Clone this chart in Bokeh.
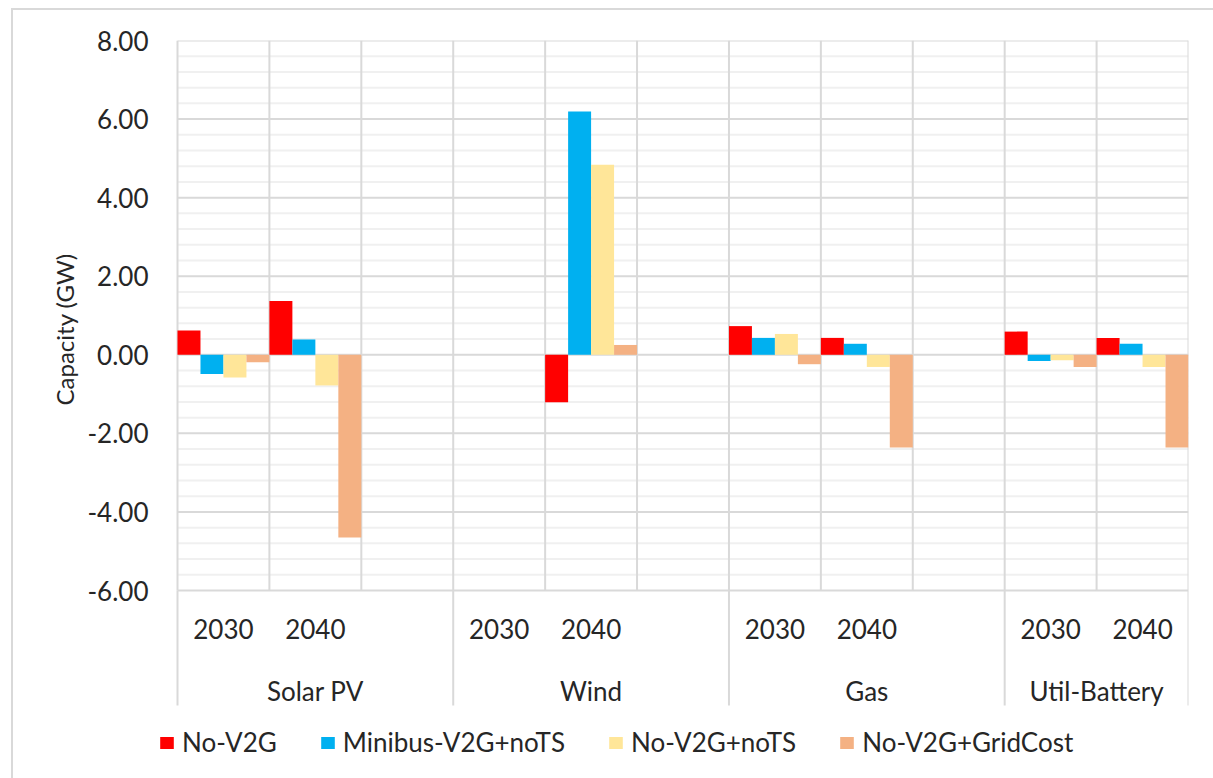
import numpy as np
from bokeh.plotting import figure
from bokeh.models import (ColumnDataSource, Range1d, FixedTicker, NumeralTickFormatter,
                          Legend, LegendItem, Title)
from bokeh.core.properties import value
from bokeh.embed import file_html
from bokeh.resources import INLINE

# ---------------- data ----------------
technologies = ["Solar PV", "Wind", "Gas", "Util-Battery"]
years = ["2030", "2040"]
series_names = ["No-V2G", "Minibus-V2G+noTS", "No-V2G+noTS", "No-V2G+GridCost"]
# order: Solar PV 2030, 2040 | Wind 2030, 2040 | Gas 2030, 2040 | Util-Battery 2030, 2040
no_v2g = [0.62, 1.37, 0.0, -1.21, 0.73, 0.43, 0.59, 0.43]
minibus_v2g_nots = [-0.49, 0.39, 0.0, 6.19, 0.43, 0.28, -0.16, 0.28]
no_v2g_nots = [-0.58, -0.78, 0.0, 4.84, 0.53, -0.31, -0.14, -0.31]
no_v2g_gridcost = [-0.19, -4.65, 0.0, 0.25, -0.24, -2.36, -0.31, -2.36]
y_ticks = [-6, -4, -2, 0, 2, 4, 6, 8]
slots_per_group = [3, 3, 3, 2]

series_values = [no_v2g, minibus_v2g_nots, no_v2g_nots, no_v2g_gridcost]
series_colors = ["#FF0000", "#00B0F0", "#FFE699", "#F4B183"]

# ---------------- layout constants (pixels) ----------------
W, H = 1213, 778
BORDER_X, BORDER_Y, BORDER_W = 11, 8, 2       # chart-area border (left / top)
FRAME_L = 150                 # frame starts a bit left of the plot area so the legend fits
PLOT_L, PLOT_R, PLOT_T, PLOT_B = 177, 1188, 40, 590
LABEL_AREA_B = 705
LEGEND_L, LEGEND_B = 158, 758
Y_MAX, Y_MIN = y_ticks[-1], y_ticks[0]
n_slots = sum(slots_per_group)
px_per_unit = (PLOT_B - PLOT_T) / (Y_MAX - Y_MIN)
px_per_slot = (PLOT_R - PLOT_L) / n_slots
x_start = -(PLOT_L - FRAME_L) / px_per_slot
y_start = Y_MAX - (H - PLOT_T) / px_per_unit
label_area_bottom = Y_MAX - (LABEL_AREA_B - PLOT_T) / px_per_unit

FONT = "Lato"
TXT = "#262626"
GRID = "#d9d9d9"
MINOR_GRID = "#f0f0f0"

# chart-area border painted behind the (transparent) canvas border area
border_css = {
    "background-color": "white",
    "background-image": f"linear-gradient({GRID}, {GRID}), linear-gradient({GRID}, {GRID})",
    "background-size": f"{BORDER_W}px 100%, 100% {BORDER_W}px",
    "background-position": f"{BORDER_X}px {BORDER_Y}px, {BORDER_X}px {BORDER_Y}px",
    "background-repeat": "no-repeat",
}

p = figure(width=W, height=H, x_range=Range1d(x_start, n_slots), y_range=Range1d(y_start, Y_MAX),
           x_axis_location=None, output_backend="svg", toolbar_location=None,
           min_border_left=FRAME_L, min_border_right=W - PLOT_R, min_border_top=PLOT_T,
           min_border_bottom=0, outline_line_color=None, background_fill_color="white",
           border_fill_alpha=0, styles=border_css)
p.grid.visible = False

# y axis
ax = p.yaxis[0]
ax.ticker = FixedTicker(ticks=y_ticks)
ax.formatter = NumeralTickFormatter(format="0.00")
ax.axis_line_color = None
ax.major_tick_line_color = None
ax.minor_tick_line_color = None
ax.major_tick_out = 0
ax.major_tick_in = 0
ax.major_label_standoff = 2
ax.major_label_text_font = FONT
ax.major_label_text_font_size = "26px"
ax.major_label_text_color = TXT

# axis title (left panel, shifted up to centre on the value area)
p.add_layout(Title(text="Capacity (GW)", align="left", offset=H - 405,
                   vertical_align="middle", text_font=FONT, text_font_size="24px",
                   text_font_style="normal", text_color=TXT), "left")

# horizontal gridlines (minor every 0.4, major every 2) across the plot area only
minor = [round(v, 2) for v in np.arange(Y_MIN, Y_MAX + 0.001, 0.4)
         if abs(v - round(v / 2) * 2) > 1e-6]
p.segment(x0=[0] * len(minor), y0=minor, x1=[n_slots] * len(minor), y1=minor,
          line_color=MINOR_GRID, line_width=2)
p.segment(x0=[0] * len(y_ticks), y0=y_ticks, x1=[n_slots] * len(y_ticks), y1=y_ticks,
          line_color=GRID, line_width=2)

# slot positions
group_starts = np.cumsum([0] + slots_per_group[:-1])
slot_idx = []
for g, tech in enumerate(technologies):
    for yi, yr in enumerate(years):
        slot_idx.append(group_starts[g] + yi)
slot_idx = np.array(slot_idx, dtype=float)

# vertical gridlines (slot boundaries) within value range
bounds = np.arange(0, n_slots + 1)
p.segment(x0=bounds, y0=[Y_MIN] * len(bounds), x1=bounds, y1=[Y_MAX] * len(bounds),
          line_color=GRID, line_width=2)
# group separators extend into the label area
gb = list(group_starts) + [n_slots]
p.segment(x0=gb, y0=[Y_MIN] * len(gb), x1=gb, y1=[label_area_bottom] * len(gb),
          line_color=GRID, line_width=2)

# bars
bw = 1.0 / len(series_names)
renderers = []
for i, (name, vals, col) in enumerate(zip(series_names, series_values, series_colors)):
    src = ColumnDataSource(dict(x=slot_idx + (i + 0.5) * bw, top=vals))
    renderers.append(p.vbar(x="x", top="top", bottom=0, width=bw, source=src,
                            fill_color=col, line_color=None))

# category labels
year_src = ColumnDataSource(dict(x=slot_idx + 0.5, y=[Y_MIN] * len(slot_idx),
                                 t=[yr for _ in technologies for yr in years]))
p.text(x="x", y="y", text="t", source=year_src, y_offset=38, text_align="center",
       text_baseline="middle", text_font=value(FONT), text_font_size="26px", text_color=TXT)
grp_src = ColumnDataSource(dict(x=[gs + n / 2 for gs, n in zip(group_starts, slots_per_group)],
                                y=[Y_MIN] * len(technologies), t=technologies))
p.text(x="x", y="y", text="t", source=grp_src, y_offset=100, text_align="center",
       text_baseline="middle", text_font=value(FONT), text_font_size="26px", text_color=TXT)

# legend
legend = Legend(items=[LegendItem(label=n, renderers=[r]) for n, r in zip(series_names, renderers)],
                orientation="horizontal", location=(LEGEND_L - FRAME_L, H - LEGEND_B),
                glyph_width=17, glyph_height=15, label_standoff=7, spacing=42, padding=0, margin=0,
                label_text_font=FONT, label_text_font_size="26px", label_text_color=TXT,
                border_line_color=None, background_fill_alpha=0)
p.add_layout(legend)

open("out.html", "w").write(file_html(p, INLINE))
